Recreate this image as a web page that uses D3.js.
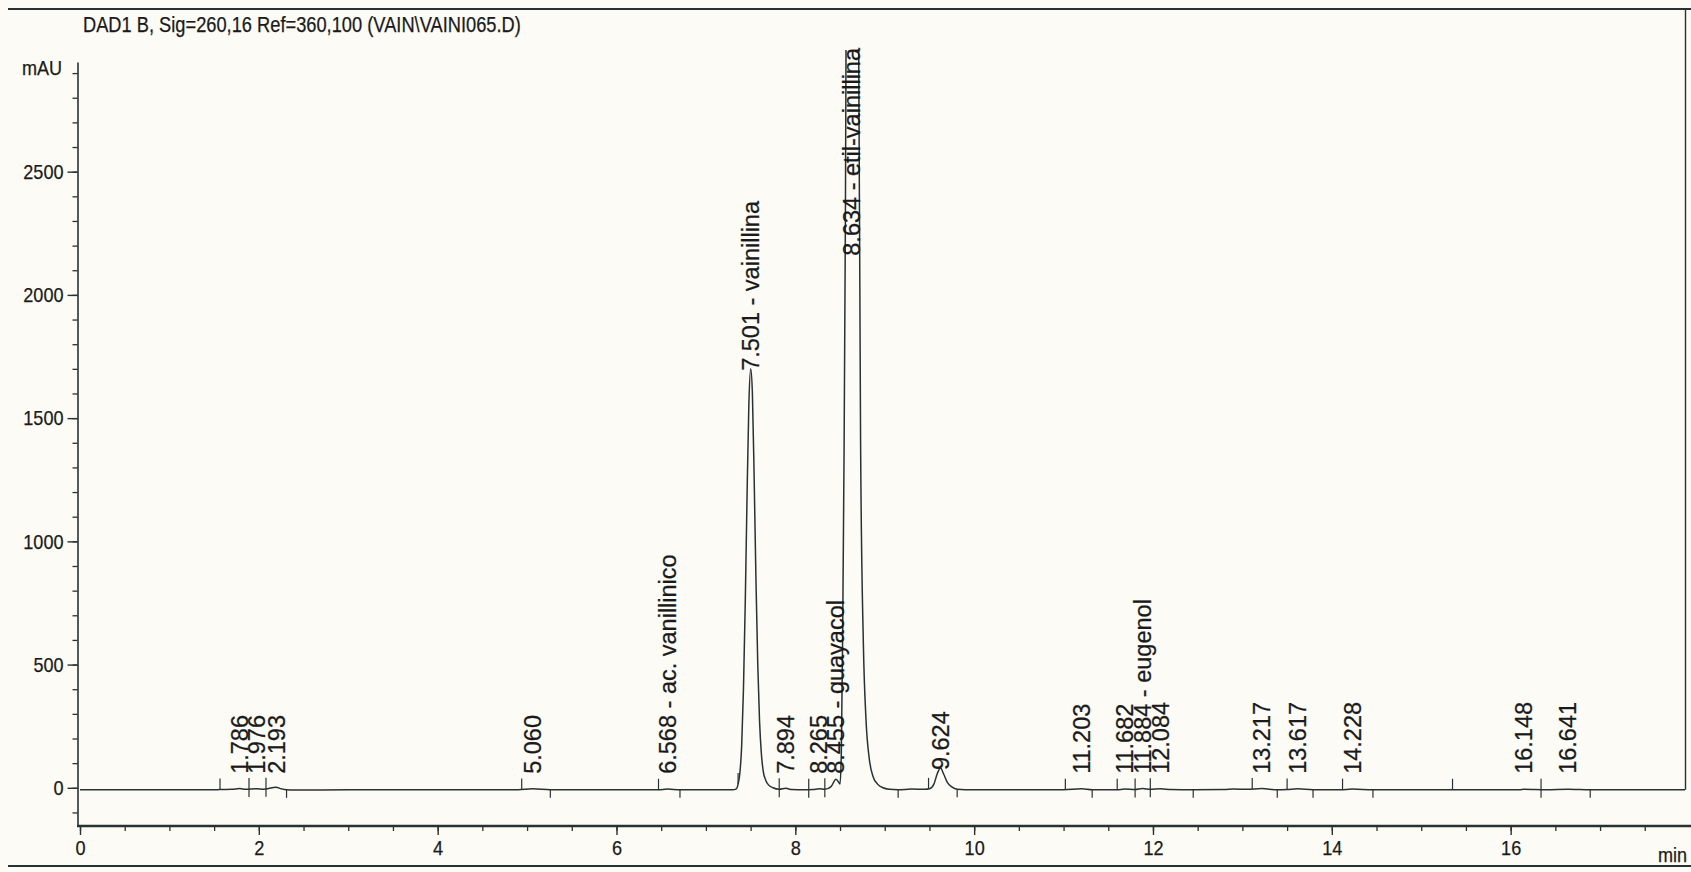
<!DOCTYPE html>
<html><head><meta charset="utf-8">
<script src="https://cdn.jsdelivr.net/npm/d3@7"></script>
<style>
html,body{margin:0;padding:0;background:#fcfbf6;}
svg{display:block;}
text{font-family:"Liberation Sans",Arial,sans-serif;fill:#1a1a1a;stroke:#1a1a1a;stroke-width:0.25px;}
</style></head><body>
<svg id="c" width="1691" height="872"></svg>
<script>
// ---------- data ----------
const chartTitle = "DAD1 B, Sig=260,16 Ref=360,100 (VAIN\\VAINI065.D)";
const yUnit = "mAU";
const xUnit = "min";

// chromatogram trace (time in min, signal in mAU)
const traceTime = [0.00,0.50,1.00,1.50,1.56,1.70,1.786,1.85,1.976,2.05,2.193,2.25,2.31,2.40,3.00,4.00,4.90,5.060,5.26,6.00,6.47,6.568,6.71,7.00,7.30,7.34,7.36,7.38,7.40,7.42,7.44,7.46,7.48,7.501,7.52,7.54,7.56,7.58,7.60,7.62,7.64,7.67,7.70,7.75,7.82,7.894,7.96,8.10,8.20,8.265,8.33,8.40,8.455,8.49,8.50,8.515,8.53,8.545,8.56,8.58,8.60,8.62,8.634,8.65,8.67,8.69,8.71,8.73,8.76,8.79,8.83,8.87,8.92,8.98,9.05,9.15,9.30,9.45,9.50,9.55,9.59,9.624,9.66,9.70,9.75,9.81,9.90,11.00,11.203,11.32,11.60,11.682,11.80,11.884,11.97,12.084,12.20,12.45,12.80,12.90,13.05,13.217,13.39,13.50,13.617,13.79,14.10,14.228,14.46,16.10,16.148,16.40,16.641,16.90,17.95];
const traceMAU  = [-8,-8,-8,-8,-7,-6,-3,-6,-4,-6,2,-4,-8,-9,-8,-8,-8,-4,-8,-8,-8,-5,-8,-8,-8,-4,15,60,170,400,750,1180,1550,1700,1600,1250,840,500,270,140,70,30,12,0,-6,-2,-7,-8,-7,-4,-6,5,35,20,15,150,650,1350,2300,4300,7000,9200,10000,9400,7800,5200,2900,1400,600,280,110,45,15,0,-6,-8,-5,-6,-4,15,60,80,55,22,4,-6,-8,-8,-4,-8,-8,-5,-7,-3,-6,-4,-7,-8,-7,-5,-6,-3,-8,-7,-4,-8,-8,-5,-8,-8,-6,-8,-6,-8,-8];

// peak retention times and compound names
const peakRT   = [1.786,1.976,2.193,5.060,6.568,7.501,7.894,8.265,8.455,8.634,9.624,11.203,11.682,11.884,12.084,13.217,13.617,14.228,16.148,16.641];
const peakName = ["","","","","ac. vanillinico","vainillina","","","guayacol","etil-vainillina","","","","eugenol","","","","","",""];

// integration baseline events (min)
const baselineStart = [1.566,1.89,2.08,4.94,6.47,7.36,7.82,8.15,8.33,9.49,11.02,11.60,11.80,11.97,13.11,13.50,14.12,15.35,16.34];
const baselineEnd   = [1.89,2.08,2.31,5.26,6.71,7.82,8.15,8.33,9.15,9.81,11.32,11.80,11.97,12.45,13.39,13.79,14.46,16.34,16.89];

// axis ticks
const yTickValues = [0,500,1000,1500,2000,2500];
const xTickValues = [0,2,4,6,8,10,12,14,16];
const yUnitTick = 2900;

// ---------- drawing ----------
const svg = d3.select("#c");
const ink = "#283232";

const x = d3.scaleLinear().domain([0, 17.95]).range([80, 1685]);
const y = d3.scaleLinear().domain([-155, 2945]).range([826, 62]);

function condense(sel, f){
  sel.each(function(){
    const L = this.getComputedTextLength();
    this.setAttribute("textLength", (L*f).toFixed(1));
    this.setAttribute("lengthAdjust", "spacingAndGlyphs");
  });
}

// frame lines
svg.append("line").attr("x1",8).attr("x2",1691).attr("y1",9).attr("y2",9)
  .attr("stroke",ink).attr("stroke-width",2.2);
svg.append("line").attr("x1",8).attr("x2",1691).attr("y1",866).attr("y2",866)
  .attr("stroke",ink).attr("stroke-width",2.2);
svg.append("line").attr("x1",1685.5).attr("x2",1685.5).attr("y1",9).attr("y2",y(-8))
  .attr("stroke",ink).attr("stroke-width",1.4);

// title
const t = svg.append("text").attr("x",83).attr("y",32).attr("font-size",22).text(chartTitle);
condense(t, 0.83);

// y axis
const yMinor = d3.axisLeft(y).tickValues(d3.range(-100, 2950, 100)).tickSize(5).tickFormat("").tickSizeOuter(0);
const gyMinor = svg.append("g").attr("transform","translate(77.5,0)").call(yMinor);
gyMinor.select(".domain").attr("stroke",ink).attr("stroke-width",1.6);
gyMinor.selectAll(".tick line").attr("stroke",ink).attr("stroke-width",1.3);

const yMajor = d3.axisLeft(y).tickValues(yTickValues).tickSize(10).tickPadding(4).tickSizeOuter(0).tickFormat(d3.format("d"));
const gy = svg.append("g").attr("transform","translate(77.5,0)").call(yMajor);
gy.select(".domain").remove();
gy.selectAll(".tick line").attr("stroke",ink).attr("stroke-width",1.4);
gy.selectAll(".tick text").attr("font-size",21).attr("font-family",null).attr("fill","#1a1a1a");
condense(gy.selectAll(".tick text"), 0.86);

const mau = svg.append("text").attr("x",62).attr("y",y(yUnitTick)+1.5)
  .attr("text-anchor","end").attr("font-size",21).text(yUnit);
condense(mau, 0.86);

// x axis
svg.append("line").attr("x1",77).attr("x2",1691).attr("y1",826).attr("y2",826)
  .attr("stroke",ink).attr("stroke-width",2.4);
const xMinor = d3.axisBottom(x).tickValues(d3.range(0, 18, 0.5)).tickSize(5).tickFormat("").tickSizeOuter(0);
const gxMinor = svg.append("g").attr("transform","translate(0,826)").call(xMinor);
gxMinor.select(".domain").remove();
gxMinor.selectAll(".tick line").attr("stroke",ink).attr("stroke-width",1.3);
const xMajor = d3.axisBottom(x).tickValues(xTickValues).tickSize(9).tickPadding(5).tickSizeOuter(0).tickFormat(d3.format("d"));
const gx = svg.append("g").attr("transform","translate(0,826)").call(xMajor);
gx.select(".domain").remove();
gx.selectAll(".tick line").attr("stroke",ink).attr("stroke-width",1.4);
gx.selectAll(".tick text").attr("font-size",21).attr("font-family",null).attr("fill","#1a1a1a");
condense(gx.selectAll(".tick text"), 0.86);
const mn = svg.append("text").attr("x",1687).attr("y",862).attr("text-anchor","end").attr("font-size",21).text(xUnit);
condense(mn, 0.86);

// trace
svg.append("clipPath").attr("id","plot").append("rect")
  .attr("x",78).attr("y",50).attr("width",1608).attr("height",780);
const pts = traceTime.map((tt,i)=>[tt, traceMAU[i]]);
const line = d3.line().x(d=>x(d[0])).y(d=>y(d[1])).curve(d3.curveMonotoneX);
svg.append("path").datum(pts).attr("clip-path","url(#plot)")
  .attr("d",line).attr("fill","none").attr("stroke",ink).attr("stroke-width",1.5);

// helper: signal at time
const bis = d3.bisector(d=>d[0]).left;
function signalAt(tt){
  const i = Math.max(1, Math.min(pts.length-1, bis(pts, tt)));
  const a = pts[i-1], b = pts[i];
  const f = (tt-a[0])/(b[0]-a[0]);
  return a[1] + (b[1]-a[1])*Math.max(0,Math.min(1,f));
}

// integration event ticks
svg.append("g").selectAll("line").data(baselineStart).join("line")
  .attr("x1",d=>x(d)).attr("x2",d=>x(d))
  .attr("y1",d=>y(signalAt(d))).attr("y2",d=>y(signalAt(d))-11)
  .attr("stroke",ink).attr("stroke-width",1.2);
svg.append("g").selectAll("line").data(baselineEnd).join("line")
  .attr("x1",d=>x(d)).attr("x2",d=>x(d))
  .attr("y1",d=>y(signalAt(d))).attr("y2",d=>y(signalAt(d))+8)
  .attr("stroke",ink).attr("stroke-width",1.2);

// peak labels
const yTop = y.domain()[1];
svg.append("g").selectAll("text").data(peakRT).join("text")
  .attr("font-size",23.5)
  .attr("dy","0.36em")
  .text((d,i)=> d.toFixed(3) + (peakName[i] ? " - " + peakName[i] : ""))
  .each(function(d){
    let apex = -Infinity;
    pts.forEach(p=>{ if (Math.abs(p[0]-d) < 0.03) apex = Math.max(apex, p[1]); });
    const px = x(d);
    if (apex > yTop) {
      d3.select(this).attr("text-anchor","end")
        .attr("transform",`translate(${px},${y(yTop)-14}) rotate(-90)`);
    } else {
      const py = Math.min(y(apex)+2, y(0)-14);
      d3.select(this).attr("text-anchor","start")
        .attr("transform",`translate(${px},${py}) rotate(-90)`);
    }
  });
</script>
</body></html>
